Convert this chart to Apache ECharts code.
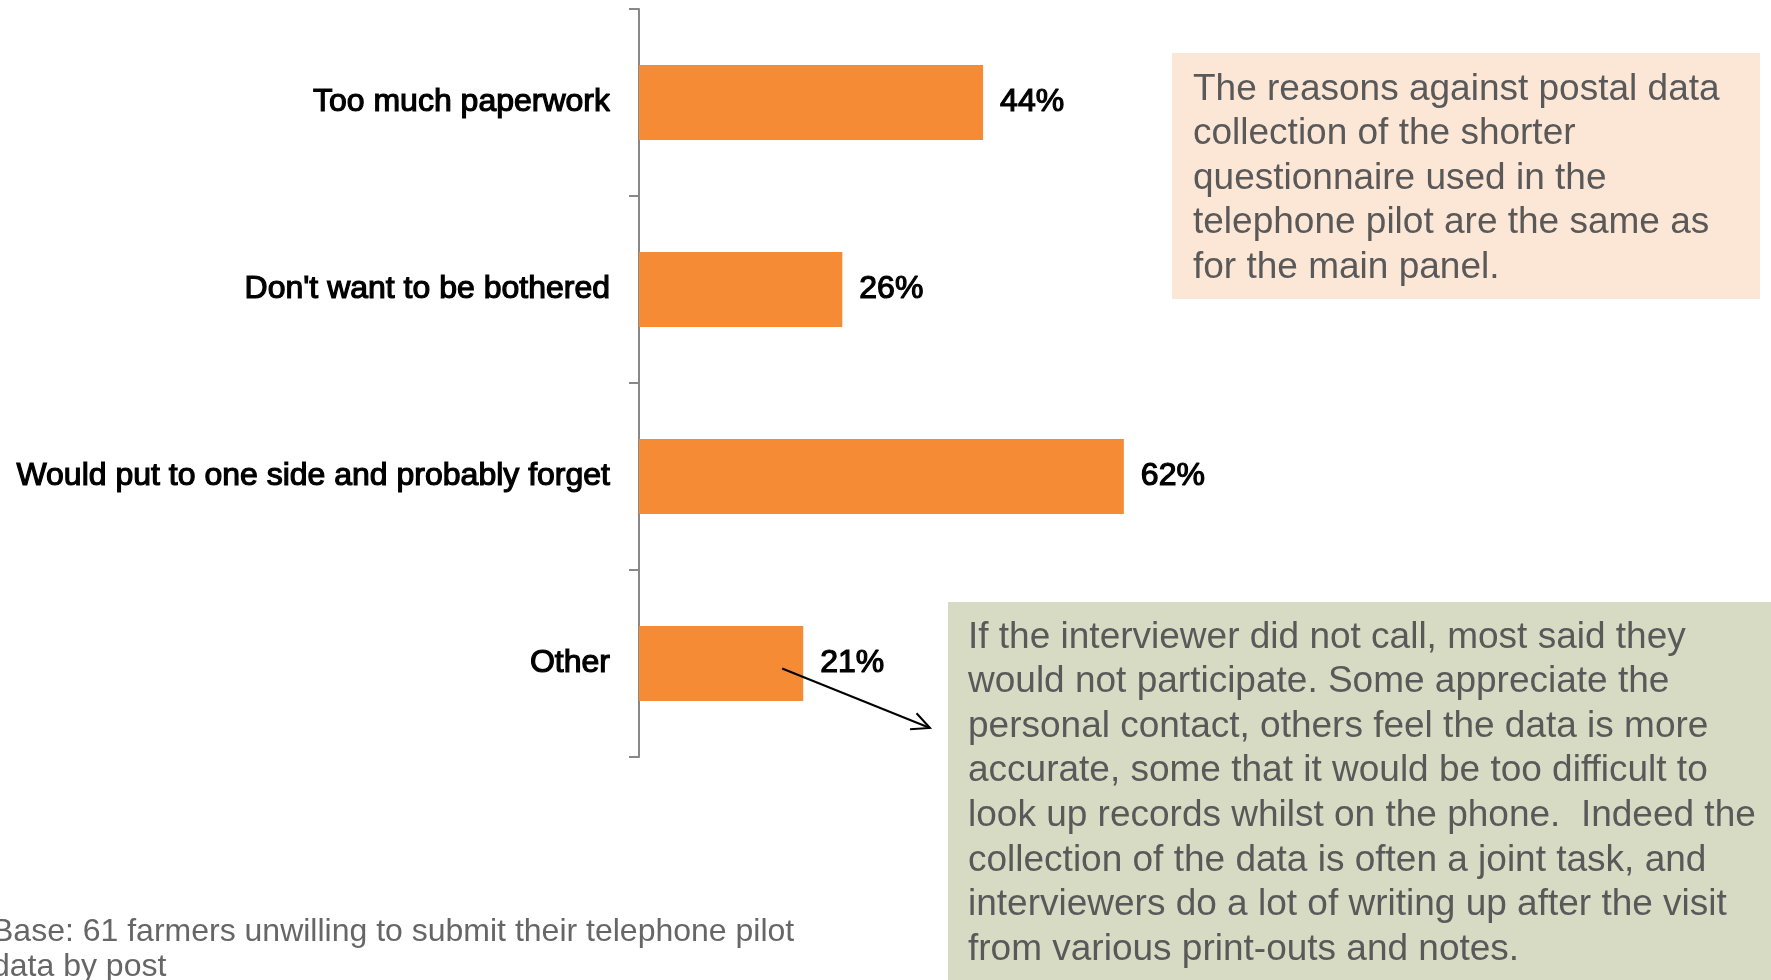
<!DOCTYPE html>
<html>
<head>
<meta charset="utf-8">
<script src="https://cdn.jsdelivr.net/npm/echarts@6/dist/echarts.min.js"></script>
<style>
  html, body { margin: 0; padding: 0; background: #ffffff; }
  #chart { width: 1771px; height: 980px; }
</style>
</head>
<body>
<div id="chart"></div>
<script>
// Reasons given for not submitting data by post (% of farmers)
const categories = [
  "Too much paperwork",
  "Don't want to be bothered",
  "Would put to one side and probably forget",
  "Other"
];
const percentValues = [44, 26, 62, 21];

const noteReasons = [
  "The reasons against postal data",
  "collection of the shorter",
  "questionnaire used in the",
  "telephone pilot are the same as",
  "for the main panel."
];
const noteInterviewer = [
  "If the interviewer did not call, most said they",
  "would not participate. Some appreciate the",
  "personal contact, others feel the data is more",
  "accurate, some that it would be too difficult to",
  "look up records whilst on the phone.  Indeed the",
  "collection of the data is often a joint task, and",
  "interviewers do a lot of writing up after the visit",
  "from various print-outs and notes."
];
const baseNote = [
  "Base: 61 farmers unwilling to submit their telephone pilot",
  "data by post"
];

const FONT = '"Liberation Sans", Arial, Helvetica, sans-serif';
const chart = echarts.init(document.getElementById('chart'), null, { renderer: 'canvas' });

const option = {
  animation: false,
  backgroundColor: '#ffffff',
  grid: { left: 639, top: 9, width: 782, height: 748, containLabel: false },
  xAxis: {
    type: 'value', min: 0, max: 100, show: false
  },
  yAxis: {
    type: 'category',
    inverse: true,
    data: categories,
    axisLine: { show: true, lineStyle: { color: '#888888', width: 2 } },
    axisTick: { show: true, length: 10, lineStyle: { color: '#888888', width: 2 } },
    axisLabel: {
      margin: 29,
      color: '#000000',
      fontFamily: FONT,
      fontSize: 32,
      textBorderColor: '#000000',
      textBorderWidth: 1.2
    },
    splitLine: { show: false }
  },
  series: [{
    type: 'bar',
    data: percentValues,
    barWidth: 75,
    itemStyle: { color: '#F68B36' },
    label: {
      show: true,
      position: 'right',
      distance: 17,
      formatter: '{c}%',
      color: '#000000',
      fontFamily: FONT,
      fontSize: 32,
      textBorderColor: '#000000',
      textBorderWidth: 1.2
    }
  }]
};
chart.setOption(option);

// Annotations: two note boxes, base note and the pointer from the "Other" bar
const start = chart.convertToPixel({ gridIndex: 0 }, [18.3, 3]);
const sx = start[0], sy = start[1] + 5;
const ex = 930, ey = 728;
const ang = Math.atan2(ey - sy, ex - sx);
const headLen = 20, headSpread = Math.PI / 7;
const arm1 = [ex - headLen * Math.cos(ang - headSpread), ey - headLen * Math.sin(ang - headSpread)];
const arm2 = [ex - headLen * Math.cos(ang + headSpread), ey - headLen * Math.sin(ang + headSpread)];

chart.setOption({
  graphic: [
    {
      type: 'rect', silent: true,
      shape: { x: 1172, y: 53, width: 588, height: 246 },
      style: { fill: '#FCE6D6' }
    },
    {
      type: 'text', silent: true,
      style: {
        x: 1193, y: 67, text: noteReasons.join('\n'),
        font: '37px ' + FONT, fill: '#595959', lineHeight: 44.6,
        align: 'left', verticalAlign: 'top'
      }
    },
    {
      type: 'rect', silent: true,
      shape: { x: 948, y: 602, width: 830, height: 390 },
      style: { fill: '#D7DBC4' }
    },
    {
      type: 'text', silent: true,
      style: {
        x: 968, y: 615, text: noteInterviewer.join('\n'),
        font: '37px ' + FONT, fill: '#595959', lineHeight: 44.6,
        align: 'left', verticalAlign: 'top'
      }
    },
    {
      type: 'text', silent: true,
      style: {
        x: -8, y: 915, text: baseNote.join('\n'),
        font: '32px ' + FONT, fill: '#666666', lineHeight: 35,
        align: 'left', verticalAlign: 'top'
      }
    },
    {
      type: 'line', silent: true, z: 100,
      shape: { x1: sx, y1: sy, x2: ex, y2: ey },
      style: { stroke: '#000000', lineWidth: 2 }
    },
    {
      type: 'polyline', silent: true, z: 100,
      shape: { points: [arm1, [ex, ey], arm2] },
      style: { stroke: '#000000', lineWidth: 2, fill: null }
    }
  ]
});
</script>
</body>
</html>
